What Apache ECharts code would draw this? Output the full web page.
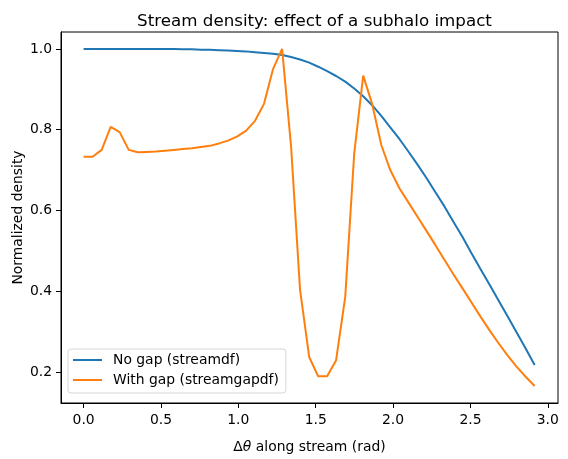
<!DOCTYPE html>
<html>
<head>
<meta charset="utf-8">
<script src="https://cdn.jsdelivr.net/npm/echarts@6/dist/echarts.min.js"></script>
<style>
  html, body { margin: 0; padding: 0; background: #fff; }
  #chart { width: 568px; height: 459px; }
</style>
</head>
<body>
<div id="chart"></div>
<script>
// delta theta along stream (rad)
const xs = [
  0, 0.058, 0.117, 0.175, 0.233, 0.292, 0.350, 0.408, 0.466, 0.525,
  0.583, 0.641, 0.700, 0.758, 0.816, 0.875, 0.933, 0.991, 1.049, 1.108,
  1.166, 1.224, 1.283, 1.341, 1.399, 1.458, 1.516, 1.574, 1.632, 1.691,
  1.749, 1.807, 1.866, 1.924, 1.982, 2.041, 2.099, 2.157, 2.215, 2.274,
  2.332, 2.390, 2.449, 2.507, 2.565, 2.624, 2.682, 2.740, 2.798, 2.857,
  2.915
]
// streamdf
const noGap = [
  1.000, 1.000, 1.000, 1.000, 1.000, 1.000, 1.000, 1.000, 1.000, 1.000,
  1.000, 0.999, 0.999, 0.998, 0.998, 0.997, 0.996, 0.995, 0.994, 0.992,
  0.990, 0.988, 0.985, 0.980, 0.974, 0.966, 0.956, 0.945, 0.933, 0.919,
  0.902, 0.883, 0.860, 0.834, 0.806, 0.777, 0.746, 0.714, 0.681, 0.645,
  0.610, 0.572, 0.534, 0.494, 0.455, 0.416, 0.377, 0.338, 0.298, 0.258,
  0.217
]
// streamgapdf
const withGap = [
  0.733, 0.733, 0.750, 0.807, 0.794, 0.750, 0.744, 0.745, 0.746, 0.748,
  0.750, 0.752, 0.754, 0.757, 0.760, 0.766, 0.773, 0.783, 0.797, 0.822,
  0.864, 0.950, 1.000, 0.758, 0.403, 0.237, 0.189, 0.189, 0.229, 0.386,
  0.741, 0.934, 0.862, 0.762, 0.700, 0.655, 0.620, 0.585, 0.550, 0.514,
  0.478, 0.442, 0.407, 0.372, 0.337, 0.303, 0.271, 0.241, 0.213, 0.188,
  0.165
]
const xTicks = [0, 0.5, 1.0, 1.5, 2.0, 2.5, 3.0]
const yTicks = [0.2, 0.4, 0.6, 0.8, 1.0]

const font = 'DejaVu Sans'
const chart = echarts.init(document.getElementById('chart'))

chart.setOption({
  backgroundColor: '#fff',
  animation: false,
  title: {
    text: 'Stream density: effect of a subhalo impact',
    left: 309.5,
    top: 8,
    textAlign: 'center',
    textStyle: { fontFamily: font, fontSize: 16.7, fontWeight: 'normal', color: '#000' }
  },
  grid: {
    left: 61, right: 10, top: 32, bottom: 56,
    outerBoundsMode: 'none',
    show: true, borderColor: '#000', borderWidth: 1
  },
  legend: {
    orient: 'vertical',
    left: 68,
    top: 349,
    icon: 'rect',
    itemWidth: 29,
    itemHeight: 2,
    itemGap: 6,
    padding: [4, 7, 6, 5],
    backgroundColor: 'rgba(255,255,255,0.8)',
    borderColor: '#d6d6d6',
    borderWidth: 1,
    borderRadius: 3,
    textStyle: { fontFamily: font, fontSize: 13.9, color: '#000', padding: [0, 0, 0, 6] }
  },
  xAxis: {
    type: 'value',
    min: -0.146,
    max: 3.066,
    name: '{n|Δ}{i|θ}{n| along stream (rad)}',
    nameLocation: 'middle',
    nameGap: 37,
    nameMoveOverlap: false,
    nameTextStyle: {
      rich: {
        n: { fontFamily: font, fontSize: 13.9, color: '#000' },
        i: { fontFamily: font, fontSize: 13.9, fontStyle: 'italic', color: '#000' }
      }
    },
    splitLine: { show: false },
    axisLine: { show: true, onZero: false, lineStyle: { color: '#000', width: 1 } },
    axisTick: {
      show: true, inside: false, length: 5,
      lineStyle: { color: '#000' },
      customValues: xTicks
    },
    axisLabel: {
      fontFamily: font, fontSize: 13.9, color: '#000', margin: 10,
      customValues: xTicks,
      formatter: v => v.toFixed(1)
    }
  },
  yAxis: {
    type: 'value',
    min: 0.123,
    max: 1.042,
    name: 'Normalized density',
    nameLocation: 'middle',
    nameGap: 36,
    nameMoveOverlap: false,
    nameTextStyle: { fontFamily: font, fontSize: 13.9, color: '#000' },
    splitLine: { show: false },
    axisLine: { show: true, onZero: false, lineStyle: { color: '#000', width: 1 } },
    axisTick: {
      show: true, inside: false, length: 5,
      lineStyle: { color: '#000' },
      customValues: yTicks
    },
    axisLabel: {
      fontFamily: font, fontSize: 13.9, color: '#000', margin: 9,
      customValues: yTicks,
      formatter: v => v.toFixed(1)
    }
  },
  series: [
    {
      name: 'No gap (streamdf)',
      type: 'line',
      data: xs.map((x, i) => [x, noGap[i]]),
      showSymbol: false,
      symbol: 'none',
      lineStyle: { color: '#1f77b4', width: 2 },
      itemStyle: { color: '#1f77b4' }
    },
    {
      name: 'With gap (streamgapdf)',
      type: 'line',
      data: xs.map((x, i) => [x, withGap[i]]),
      showSymbol: false,
      symbol: 'none',
      lineStyle: { color: '#ff7f0e', width: 2 },
      itemStyle: { color: '#ff7f0e' }
    }
  ]
})
</script>
</body>
</html>
